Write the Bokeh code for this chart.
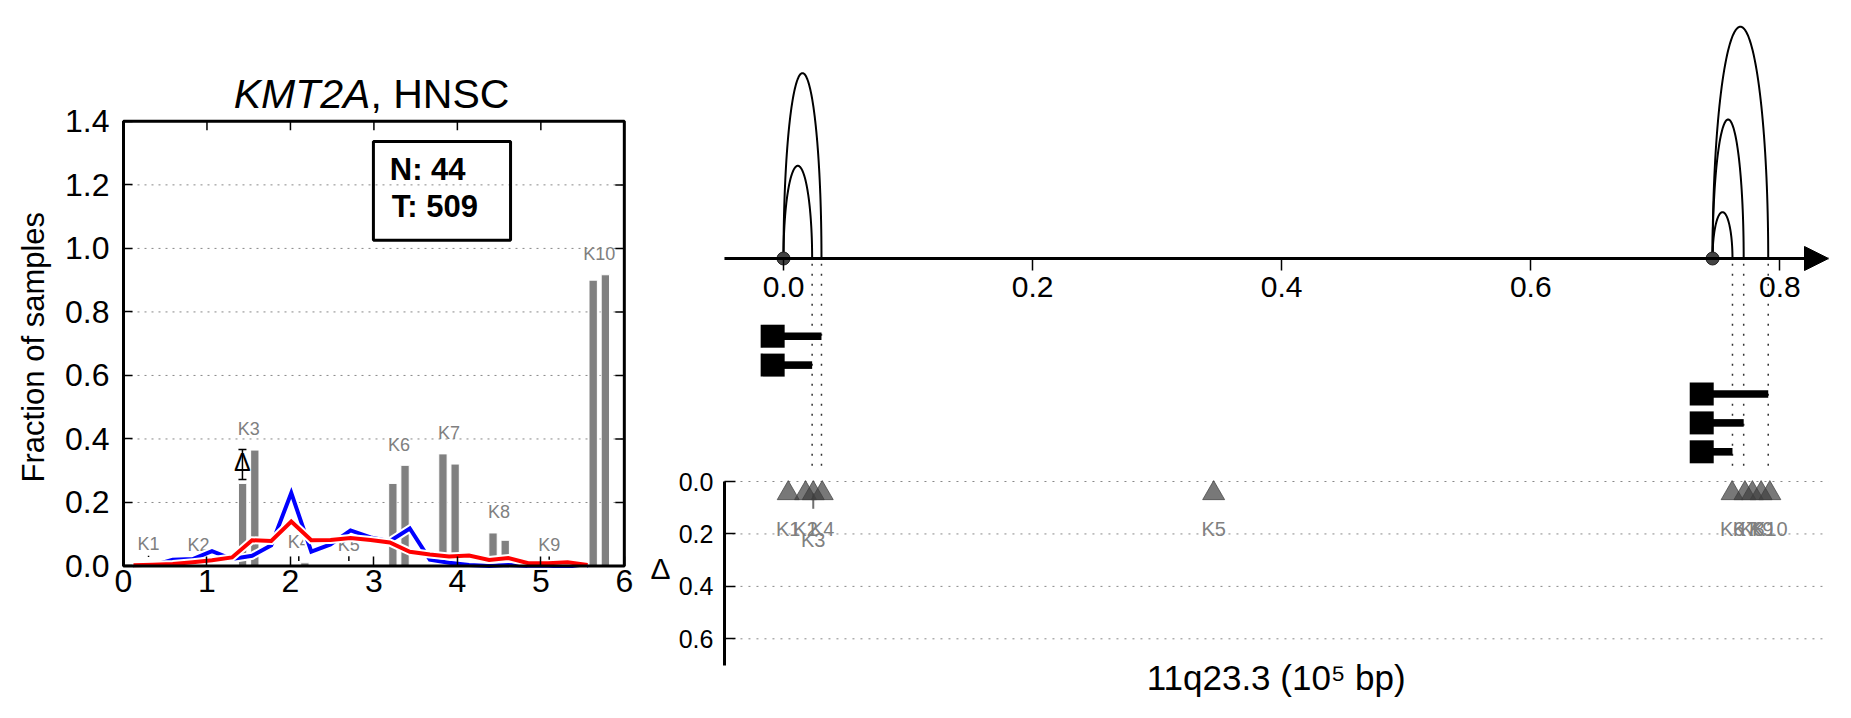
import numpy as np
from bokeh.plotting import figure
from bokeh.models import (ColumnDataSource, Range1d, LinearAxis, FixedTicker,
                          BoxAnnotation, Whisker, TeeHead, Arrow, NormalHead,
                          PrintfTickFormatter)
from bokeh.layouts import row
from bokeh.embed import file_html
from bokeh.resources import INLINE
from bokeh.core.properties import value
from bokeh.transform import dodge

FONT = "Liberation Sans"

# ---------------- data: left panel ----------------
gene = "KMT2A"
cancer = "HNSC"
n_normal = 44
n_tumor = 509

k_names = ["K1", "K2", "K3", "K4", "K5", "K6", "K7", "K8", "K9", "K10"]
k_centers = [0.3, 0.9, 1.5, 2.1, 2.7, 3.3, 3.9, 4.5, 5.1, 5.7]
bar_normal = [0.0, 0.0, 0.26, 0.0, 0.0, 0.26, 0.353, 0.104, 0.0, 0.90]
bar_tumor = [0.005, 0.0, 0.365, 0.01, 0.0, 0.317, 0.321, 0.081, 0.0, 0.917]

prof_x = [0.12, 0.35, 0.59, 0.83, 1.06, 1.30, 1.54, 1.77, 2.01, 2.25, 2.48, 2.72,
          2.96, 3.19, 3.43, 3.67, 3.90, 4.14, 4.38, 4.61, 4.85, 5.09, 5.32, 5.56]
prof_blue = [0.0, 0.002, 0.02, 0.022, 0.047, 0.022, 0.032, 0.065, 0.23, 0.045, 0.068, 0.112,
             0.09, 0.078, 0.118, 0.02, 0.01, 0.003, 0.0, 0.003, 0.0, 0.0, 0.0, 0.0]
prof_red = [0.002, 0.004, 0.006, 0.012, 0.018, 0.027, 0.081, 0.079, 0.14, 0.081, 0.082, 0.088,
            0.082, 0.074, 0.045, 0.036, 0.03, 0.033, 0.019, 0.025, 0.009, 0.009, 0.012, 0.003]

delta_x = [1.425]
delta_y = [0.327]
delta_lo = [0.272]
delta_hi = [0.367]

small_err_x = [0.3, 2.1, 2.7, 5.1]
small_err_lo = [0.028, 0.016, 0.016, 0.02]
small_err_hi = [0.032, 0.031, 0.031, 0.03]

x_ticks_left = [0, 1, 2, 3, 4, 5, 6]
y_ticks_left = [0.0, 0.2, 0.4, 0.6, 0.8, 1.0, 1.2, 1.4]

# ---------------- data: right panel ----------------
region = "11q23.3"
tss = [0.0, 0.0, 0.746, 0.746, 0.746]
tx_end = [0.0305, 0.023, 0.7907, 0.771, 0.762]
loop_count = [4, 2, 5, 3, 1]
track_row = [0, 1, 2, 3, 4]
tss_sites = [0.0, 0.746]

k_pos = [0.0038, 0.0177, 0.0239, 0.0311, 0.3454, 0.7617, 0.772, 0.778, 0.785, 0.792]
k_delta = [0.045, 0.045, 0.045, 0.045, 0.045, 0.045, 0.045, 0.045, 0.045, 0.045]
k_delta_hi = [0.045, 0.045, 0.104, 0.045, 0.045, 0.045, 0.045, 0.045, 0.045, 0.045]
k_label_row = [0, 0, 1, 0, 0, 0, 0, 0, 0, 0]

x_ticks_right = [0.0, 0.2, 0.4, 0.6, 0.8]
delta_ticks = [0.0, 0.2, 0.4, 0.6]

# common vertical frame for both figures (rows align frames)
FRAME_H = 694
BT, BB = 12, 2

# ====================== LEFT FIGURE ======================
XMAX, YMAX = 6, 1.4
pl = figure(frame_width=626, frame_height=FRAME_H,
            x_range=Range1d(-1.3538, 6.1459), y_range=Range1d(-0.4424, 1.7428),
            min_border_left=10, min_border_right=4, min_border_top=BT, min_border_bottom=BB,
            output_backend="svg", toolbar_location=None)
pl.outline_line_color = None
pl.xgrid.visible = False
pl.ygrid.visible = False

# dotted horizontal grid inside the axes box
pl.segment(x0=0, x1=XMAX, y0=y_ticks_left[1:-1], y1=y_ticks_left[1:-1],
           line_color="#888888", line_dash="2 5", line_width=1)

bar_src = ColumnDataSource(dict(c=k_centers, a=bar_normal, b=bar_tumor))
pl.vbar(x=dodge("c", -0.073, range=pl.x_range), top="a", width=0.1, source=bar_src,
        fill_color="#808080", line_color="white", line_width=1)
pl.vbar(x=dodge("c", 0.073, range=pl.x_range), top="b", width=0.1, source=bar_src,
        fill_color="#808080", line_color="white", line_width=1)

lab_y = [max(a, b) + 0.065 for a, b in zip(bar_normal, bar_tumor)]
pl.text(x=k_centers, y=lab_y, text=k_names, text_font=value(FONT), text_font_size="18px",
        text_color="#808080", text_align="center", text_baseline="middle")

pl.line(prof_x, prof_blue, line_color="white", line_width=8, line_join="miter")
pl.line(prof_x, prof_blue, line_color="#0000ff", line_width=4, line_join="miter")
pl.line(prof_x, prof_red, line_color="white", line_width=8, line_join="miter")
pl.line(prof_x, prof_red, line_color="#ff0000", line_width=4, line_join="miter")

pl.segment(x0=small_err_x, x1=small_err_x, y0=small_err_lo, y1=small_err_hi,
           line_color="black", line_width=1.5)

d_src = ColumnDataSource(dict(x=delta_x, y=delta_y, lo=delta_lo, hi=delta_hi))
pl.add_layout(Whisker(source=d_src, base="x", lower="lo", upper="hi", dimension="height",
                      line_color="black", line_width=1.5,
                      upper_head=TeeHead(size=8, line_color="black", line_width=1.5),
                      lower_head=TeeHead(size=8, line_color="black", line_width=1.5)))
pl.text(x="x", y="y", text=value("Δ"), source=d_src, text_font=value(FONT),
        text_font_size="25px", text_color="black", text_align="center", text_baseline="middle")

# axes box
pl.add_layout(BoxAnnotation(left=0, right=XMAX, bottom=0, top=YMAX, fill_alpha=0,
                            line_color="black", line_width=3, line_alpha=1))

xa = pl.xaxis[0]
ya = pl.yaxis[0]
xa.fixed_location = 0
xa.bounds = (0, XMAX)
xa.ticker = FixedTicker(ticks=x_ticks_left)
xa.major_label_standoff = 4
ya.fixed_location = 0
ya.bounds = (0, YMAX)
ya.ticker = FixedTicker(ticks=y_ticks_left)
ya.formatter = PrintfTickFormatter(format="%.1f")
ya.major_label_standoff = 14
for ax in (xa, ya):
    ax.axis_line_color = None
    ax.major_tick_in = 9
    ax.major_tick_out = 0
    ax.major_tick_line_width = 1.5
    ax.minor_tick_line_color = None
    ax.major_label_text_font = FONT
    ax.major_label_text_font_size = "32px"
    ax.major_label_text_color = "black"

# mirrored inward ticks on top and right edges
tick_len_x = 9 / 83.47
tick_len_y = 9 / 317.6
pl.segment(x0=XMAX, x1=XMAX - tick_len_x, y0=y_ticks_left, y1=y_ticks_left,
           line_color="black", line_width=1.5)
pl.segment(x0=x_ticks_left, x1=x_ticks_left, y0=YMAX, y1=YMAX - tick_len_y,
           line_color="black", line_width=1.5)

# y label, title, N/T box
pl.text(x=[-1.083], y=[0.689], text=["Fraction of samples"], angle=np.pi / 2,
        text_font=value(FONT), text_font_size="31px", text_color="black",
        text_align="center", text_baseline="middle")
pl.text(x=[2.958], y=[1.486], text=[gene], text_font=value(FONT), text_font_size="41px",
        text_font_style="italic", text_align="right", text_baseline="middle",
        text_color="black")
pl.text(x=[2.958], y=[1.486], text=[", " + cancer], text_font=value(FONT),
        text_font_size="41px", text_align="left", text_baseline="middle",
        text_color="black")
pl.add_layout(BoxAnnotation(left=2.994, right=4.637, bottom=1.0255, top=1.337, fill_alpha=0,
                            line_color="black", line_width=3, line_alpha=1))
pl.text(x=[3.19], y=[1.2475], text=["N: %d" % n_normal], text_font=value(FONT),
        text_font_size="31px", text_font_style="bold", text_align="left",
        text_baseline="middle", text_color="black")
pl.text(x=[3.214], y=[1.1335], text=["T: %d" % n_tumor], text_font=value(FONT),
        text_font_size="31px", text_font_style="bold", text_align="left",
        text_baseline="middle", text_color="black")

# ====================== RIGHT FIGURE ======================
X0R, X1R = -0.0474, 0.8391
pr = figure(frame_width=1178, frame_height=FRAME_H, x_range=Range1d(-0.10679, X1R),
            y_range=Range1d(-9.666, 5.3075),
            min_border_left=10, min_border_right=10, min_border_top=BT, min_border_bottom=BB,
            output_backend="svg", toolbar_location=None)
pr.extra_y_ranges = {"delta": Range1d(0.8581, -1.7887), "track": Range1d(12.813, -11.201)}
pr.outline_line_color = None
pr.xgrid.visible = False
pr.ygrid.visible = False
pr.yaxis[0].visible = False

# delta grid lines (dotted)
pr.segment(x0=X0R, x1=X1R, y0=delta_ticks, y1=delta_ticks, y_range_name="delta",
           line_color="#888888", line_dash="2 6", line_width=1)

# dotted guides from each transcript end
pr.segment(x0=tx_end, x1=tx_end, y0=-0.83, y1=-0.035, y_range_name="delta",
           line_color="#333333", line_width=1.5, line_dash="2 8")

# loop arcs
t = np.linspace(0, np.pi, 80)
arc_xs = [list((s + e) / 2 - (e - s) / 2 * np.cos(t)) for s, e in zip(tss, tx_end)]
arc_ys = [list(h * np.sin(t)) for h in loop_count]
pr.multi_line(arc_xs, arc_ys, line_color="black", line_width=2)

ax = pr.xaxis[0]
ax.fixed_location = 0
ax.ticker = FixedTicker(ticks=x_ticks_right)
ax.formatter = PrintfTickFormatter(format="%.1f")
ax.axis_line_color = None
ax.major_tick_out = 12
ax.major_tick_in = 0
ax.major_tick_line_width = 1.5
ax.minor_tick_line_color = None
ax.major_label_text_font = FONT
ax.major_label_text_font_size = "30px"
ax.major_label_text_color = "black"
ax.major_label_standoff = 7

pr.add_layout(Arrow(end=NormalHead(size=24, fill_color="black", line_color="black"),
                    x_start=X0R, y_start=0, x_end=X1R, y_end=0,
                    line_color="black", line_width=3))

pr.scatter(x=tss_sites, y=[0] * len(tss_sites), marker="circle", size=13,
           fill_color="#444444", line_color="#222222", line_width=1)

tx_src = ColumnDataSource(dict(tss=tss, end=tx_end, row=track_row))
pr.hbar(y="row", left="tss", right="end", height=0.263, source=tx_src, y_range_name="track",
        fill_color="black", line_color=None)
pr.rect(x=dodge("tss", -0.0087, range=pr.x_range), y="row", width=24, height=23,
        width_units="screen", height_units="screen", source=tx_src, y_range_name="track",
        fill_color="black", line_color=None)

# delta axis
dax = LinearAxis(y_range_name="delta", fixed_location=X0R, bounds=(0, 0.7),
                 ticker=FixedTicker(ticks=delta_ticks),
                 formatter=PrintfTickFormatter(format="%.1f"),
                 axis_line_color="black", axis_line_width=3,
                 major_tick_in=11, major_tick_out=0, major_tick_line_width=1.5,
                 minor_tick_line_color=None,
                 major_label_text_font=FONT, major_label_text_font_size="25px",
                 major_label_text_color="black", major_label_standoff=11)
pr.add_layout(dax, "left")
pr.text(x=[-0.0988], y=[0.33], text=["Δ"], y_range_name="delta", text_font=value(FONT),
        text_font_size="30px", text_color="black", text_align="center",
        text_baseline="middle")

pr.segment(x0=k_pos, x1=k_pos, y0=k_delta, y1=k_delta_hi, y_range_name="delta",
           line_color="#707070", line_width=2)
pr.scatter(x=k_pos, y=k_delta, marker="triangle", size=22, y_range_name="delta",
           fill_color="#3e3e3e", fill_alpha=0.7, line_color="#3e3e3e", line_alpha=0.7)
k_lab_y = [0.182 + 0.04 * r for r in k_label_row]
pr.text(x=k_pos, y=k_lab_y, text=k_names, y_range_name="delta", text_font=value(FONT),
        text_font_size="20px", text_color="#808080", text_align="center",
        text_baseline="middle")

pr.text(x=[0.3956], y=[0.7494], text=[region + " (10⁵ bp)"], y_range_name="delta",
        text_font=value(FONT), text_font_size="35px", text_color="black",
        text_align="center", text_baseline="middle")

layout = row(pl, pr)
open("out.html", "w").write(file_html(layout, INLINE))
